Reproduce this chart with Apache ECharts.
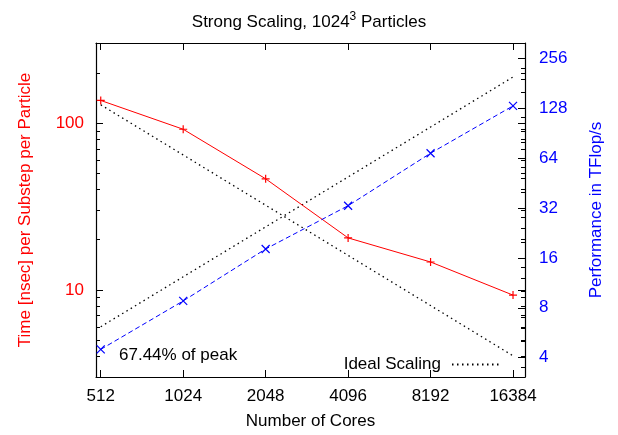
<!DOCTYPE html>
<html>
<head>
<meta charset="utf-8">
<script src="https://cdn.jsdelivr.net/npm/echarts@6/dist/echarts.min.js"></script>
<style>
  html, body { margin: 0; padding: 0; background: #fff; }
  #main { width: 618px; height: 435px; }
</style>
</head>
<body>
<div id="main"></div>
<script>
// data
var cores = [512, 1024, 2048, 4096, 8192, 16384];
var timePerParticle = [137, 92, 46.4, 20.5, 14.7, 9.3];     // nsec, left axis
var performance = [4.49, 8.8, 18.1, 33.0, 68.4, 132];       // TFlop/s, right axis
var idealTime = [129, 64.5, 32.2, 16.1, 8.05, 4.02];
var idealPerf = [6.15, 12.3, 24.6, 49.2, 98.4, 197];

// tick values
var timeTicks = [10, 100];
var timeMinor = [4, 5, 6, 7, 8, 9, 20, 30, 40, 50, 60, 70, 80, 90, 200, 300];
var perfTicks = [4, 8, 16, 32, 64, 128, 256];
var perfMinor = [3.5, 5, 6, 7, 10, 12, 14, 20, 24, 28, 40, 48, 56, 80, 96, 112, 160, 192, 224];

var font = 'Liberation Sans, Arial, Helvetica, sans-serif';
var plusSym = 'path://M0,5L10,5M5,0L5,10';
var crossSym = 'path://M0,0L10,10M10,0L0,10';

function pairs(ys) {
  return cores.map(function (c, i) { return [c, ys[i]]; });
}

var chart = echarts.init(document.getElementById('main'));

var border = { show: true, lineStyle: { color: '#000', width: 1.2 } };

var xBase = {
  type: 'log',
  logBase: 2,
  min: 492,
  max: 18120,
  axisLine: border,
  axisTick: { inside: true, length: 7, lineStyle: { color: '#000', width: 1 }, customValues: cores },
  splitLine: { show: false }
};

var timeRange = { type: 'log', logBase: 10, min: 3, max: 303, splitLine: { show: false } };
var perfRange = { type: 'log', logBase: 2, min: 3.06, max: 316, splitLine: { show: false } };

// extra axes that only carry tick marks (minor ticks, mirrored ticks)
function tickAxis(range, pos, values, len) {
  return Object.assign({}, range, {
    position: pos,
    axisLine: { show: false },
    axisLabel: { show: false },
    axisTick: { inside: true, length: len, lineStyle: { color: '#000', width: 1 }, customValues: values }
  });
}

chart.setOption({
  animation: false,
  backgroundColor: '#fff',
  title: {
    text: '{n|Strong Scaling, 1024}{s|3}{n| Particles}',
    left: 'center',
    top: 6,
    textStyle: {
      rich: {
        n: { fontFamily: font, fontSize: 17, fontWeight: 'normal', color: '#000', lineHeight: 22 },
        s: { fontFamily: font, fontSize: 12, fontWeight: 'normal', color: '#000', lineHeight: 10, verticalAlign: 'top' }
      }
    }
  },
  grid: { left: 96, right: 93, top: 43, bottom: 58 },
  legend: {
    data: ['Ideal Scaling'],
    right: 113,
    top: 351,
    align: 'right',
    itemWidth: 47,
    itemHeight: 10,
    itemStyle: { opacity: 0 },
    textStyle: { fontFamily: font, fontSize: 17, color: '#000', padding: [0, 6, 0, 0] },
    selectedMode: false
  },
  graphic: [{
    type: 'text',
    left: 119,
    top: 347,
    style: { text: '67.44% of peak', font: '17px ' + font, fill: '#000' }
  }],
  xAxis: [
    Object.assign({}, xBase, {
      position: 'bottom',
      name: 'Number of Cores',
      nameLocation: 'middle',
      nameGap: 36,
      nameTextStyle: { fontFamily: font, fontSize: 17, color: '#000' },
      axisLabel: {
        color: '#000', fontFamily: font, fontSize: 17, margin: 11,
        customValues: cores,
        formatter: function (v) { return String(v); }
      }
    }),
    Object.assign({}, xBase, {
      position: 'top',
      axisLabel: { show: false }
    })
  ],
  yAxis: [
    Object.assign({}, timeRange, {
      position: 'left',
      name: 'Time [nsec] per Substep per Particle',
      nameLocation: 'middle',
      nameGap: 62,
      nameTextStyle: { fontFamily: font, fontSize: 17, color: '#f00' },
      axisLine: border,
      axisTick: { inside: true, length: 7, lineStyle: { color: '#000' }, customValues: timeTicks },
      axisLabel: {
        color: '#f00', fontFamily: font, fontSize: 17, margin: 12,
        customValues: timeTicks,
        formatter: function (v) { return String(v); }
      }
    }),
    Object.assign({}, perfRange, {
      position: 'right',
      name: 'Performance in TFlop/s',
      nameLocation: 'middle',
      nameGap: 63,
      nameTextStyle: { fontFamily: font, fontSize: 17, color: '#00f' },
      axisLine: border,
      axisTick: { inside: true, length: 7, lineStyle: { color: '#000' }, customValues: perfTicks },
      axisLabel: {
        color: '#00f', fontFamily: font, fontSize: 17, margin: 14,
        customValues: perfTicks,
        formatter: function (v) { return String(v); }
      }
    }),
    tickAxis(timeRange, 'left', timeMinor, 4),
    tickAxis(timeRange, 'right', timeTicks, 7),
    tickAxis(timeRange, 'right', timeMinor, 4),
    tickAxis(perfRange, 'right', perfMinor, 4)
  ],
  series: [
    {
      name: 'Ideal Scaling',
      type: 'line',
      yAxisIndex: 0,
      data: pairs(idealTime),
      symbol: 'none',
      lineStyle: { color: '#000', width: 1.3, type: [1.5, 3.5] },
      itemStyle: { color: '#000' },
      z: 1
    },
    {
      name: 'Ideal Scaling',
      type: 'line',
      yAxisIndex: 1,
      data: pairs(idealPerf),
      symbol: 'none',
      lineStyle: { color: '#000', width: 1.3, type: [1.5, 3.5] },
      itemStyle: { color: '#000' },
      z: 1
    },
    {
      name: 'Time',
      type: 'line',
      yAxisIndex: 0,
      data: pairs(timePerParticle),
      symbol: plusSym,
      symbolSize: 8,
      lineStyle: { color: '#f00', width: 1 },
      itemStyle: { color: '#f00', borderColor: '#f00', borderWidth: 1.2 },
      z: 3
    },
    {
      name: 'Performance',
      type: 'line',
      yAxisIndex: 1,
      data: pairs(performance),
      symbol: crossSym,
      symbolSize: 8,
      lineStyle: { color: '#00f', width: 1, type: [5, 3] },
      itemStyle: { color: '#00f', borderColor: '#00f', borderWidth: 1.2 },
      z: 3
    }
  ]
});
</script>
</body>
</html>
